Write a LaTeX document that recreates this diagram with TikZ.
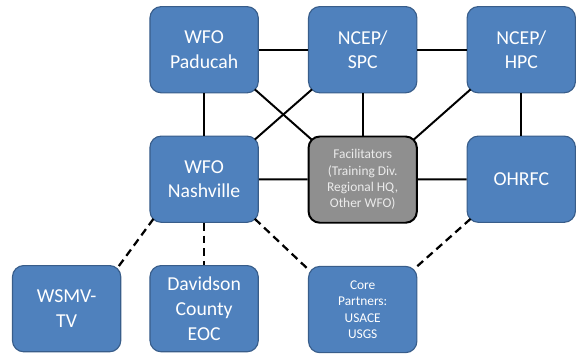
\documentclass[tikz,border=0pt]{standalone}
\usepackage{fontspec}
\setmainfont{Carlito}
\usepackage{tikz}
\usetikzlibrary{positioning,calc}
\definecolor{officeblue}{RGB}{79,129,189}
\definecolor{officeline}{RGB}{56,93,138}
\definecolor{faciligray}{RGB}{143,143,143}

\begin{document}
\begin{tikzpicture}[
  office/.style={rectangle, rounded corners=8pt, draw=officeline, line width=0.8pt, fill=officeblue,
    minimum width=2.7cm, minimum height=2.15cm, inner sep=0pt, align=center,
    text=white, font=\fontsize{14}{17.5}\selectfont},
  smallbox/.style={office, font=\fontsize{9.5}{11.6}\selectfont},
  facil/.style={smallbox, draw=black, line width=1.4pt, fill=faciligray, text=white!92!black},
  link/.style={black, line width=1.4pt},
  dashlink/.style={black, line width=1.6pt, dash pattern=on 5.5pt off 3.5pt}]
\node[office] (paducah) {WFO\\Paducah};
\node[office, right=1.225cm of paducah] (spc) {NCEP/\\SPC};
\node[office, right=1.225cm of spc] (hpc) {NCEP/\\HPC};
\node[office, below=1.05cm of paducah] (nashville) {WFO\\Nashville};
\node[facil, below=1.05cm of spc] (facil) {Facilitators\\(Training Div.\\Regional HQ,\\Other WFO)};
\node[office, below=1.05cm of hpc] (ohrfc) {OHRFC};
\node[office, below=1.05cm of nashville] (davidson) {Davidson\\County\\EOC};
\node[office, left=0.7cm of davidson] (wsmv) {WSMV-\\TV};
\node[smallbox, below=1.05cm of facil] (core) {Core\\Partners:\\USACE\\USGS};
\useasboundingbox ($(paducah.north west)+(-3.725,0.15)$) rectangle ($(hpc.east |- core.south)+(0.025,-0.125)$);
% solid links
\draw[link] (paducah) -- (spc);
\draw[link] (spc) -- (hpc);
\draw[link] (paducah) -- (nashville);
\draw[link] (hpc) -- (ohrfc);
\draw[link] (spc) -- (facil);
\draw[link] (nashville) -- (facil);
\draw[link] (facil) -- (ohrfc);
\draw[link] ($(paducah.south east)+(-0.1,0.1)$) -- ($(facil.north west)+(0.1,-0.1)$);
\draw[link] ($(nashville.north east)+(-0.1,-0.1)$) -- ($(spc.south west)+(0.1,0.1)$);
\draw[link] ($(hpc.south west)+(0.1,0.1)$) -- ($(facil.north east)+(-0.1,-0.1)$);
% dashed links
\draw[dashlink] ($(nashville.south west)+(0.1,0.1)$) -- ($(wsmv.north east)+(-0.08,-0.05)$);
\draw[dashlink] (nashville) -- (davidson);
\draw[dashlink] ($(nashville.south east)+(-0.1,0.1)$) -- ($(core.north west)+(0.02,-0.1)$);
\draw[dashlink] ($(ohrfc.south west)+(0.1,0.1)$) -- ($(core.north east)+(-0.05,-0.05)$);
\end{tikzpicture}
\end{document}
